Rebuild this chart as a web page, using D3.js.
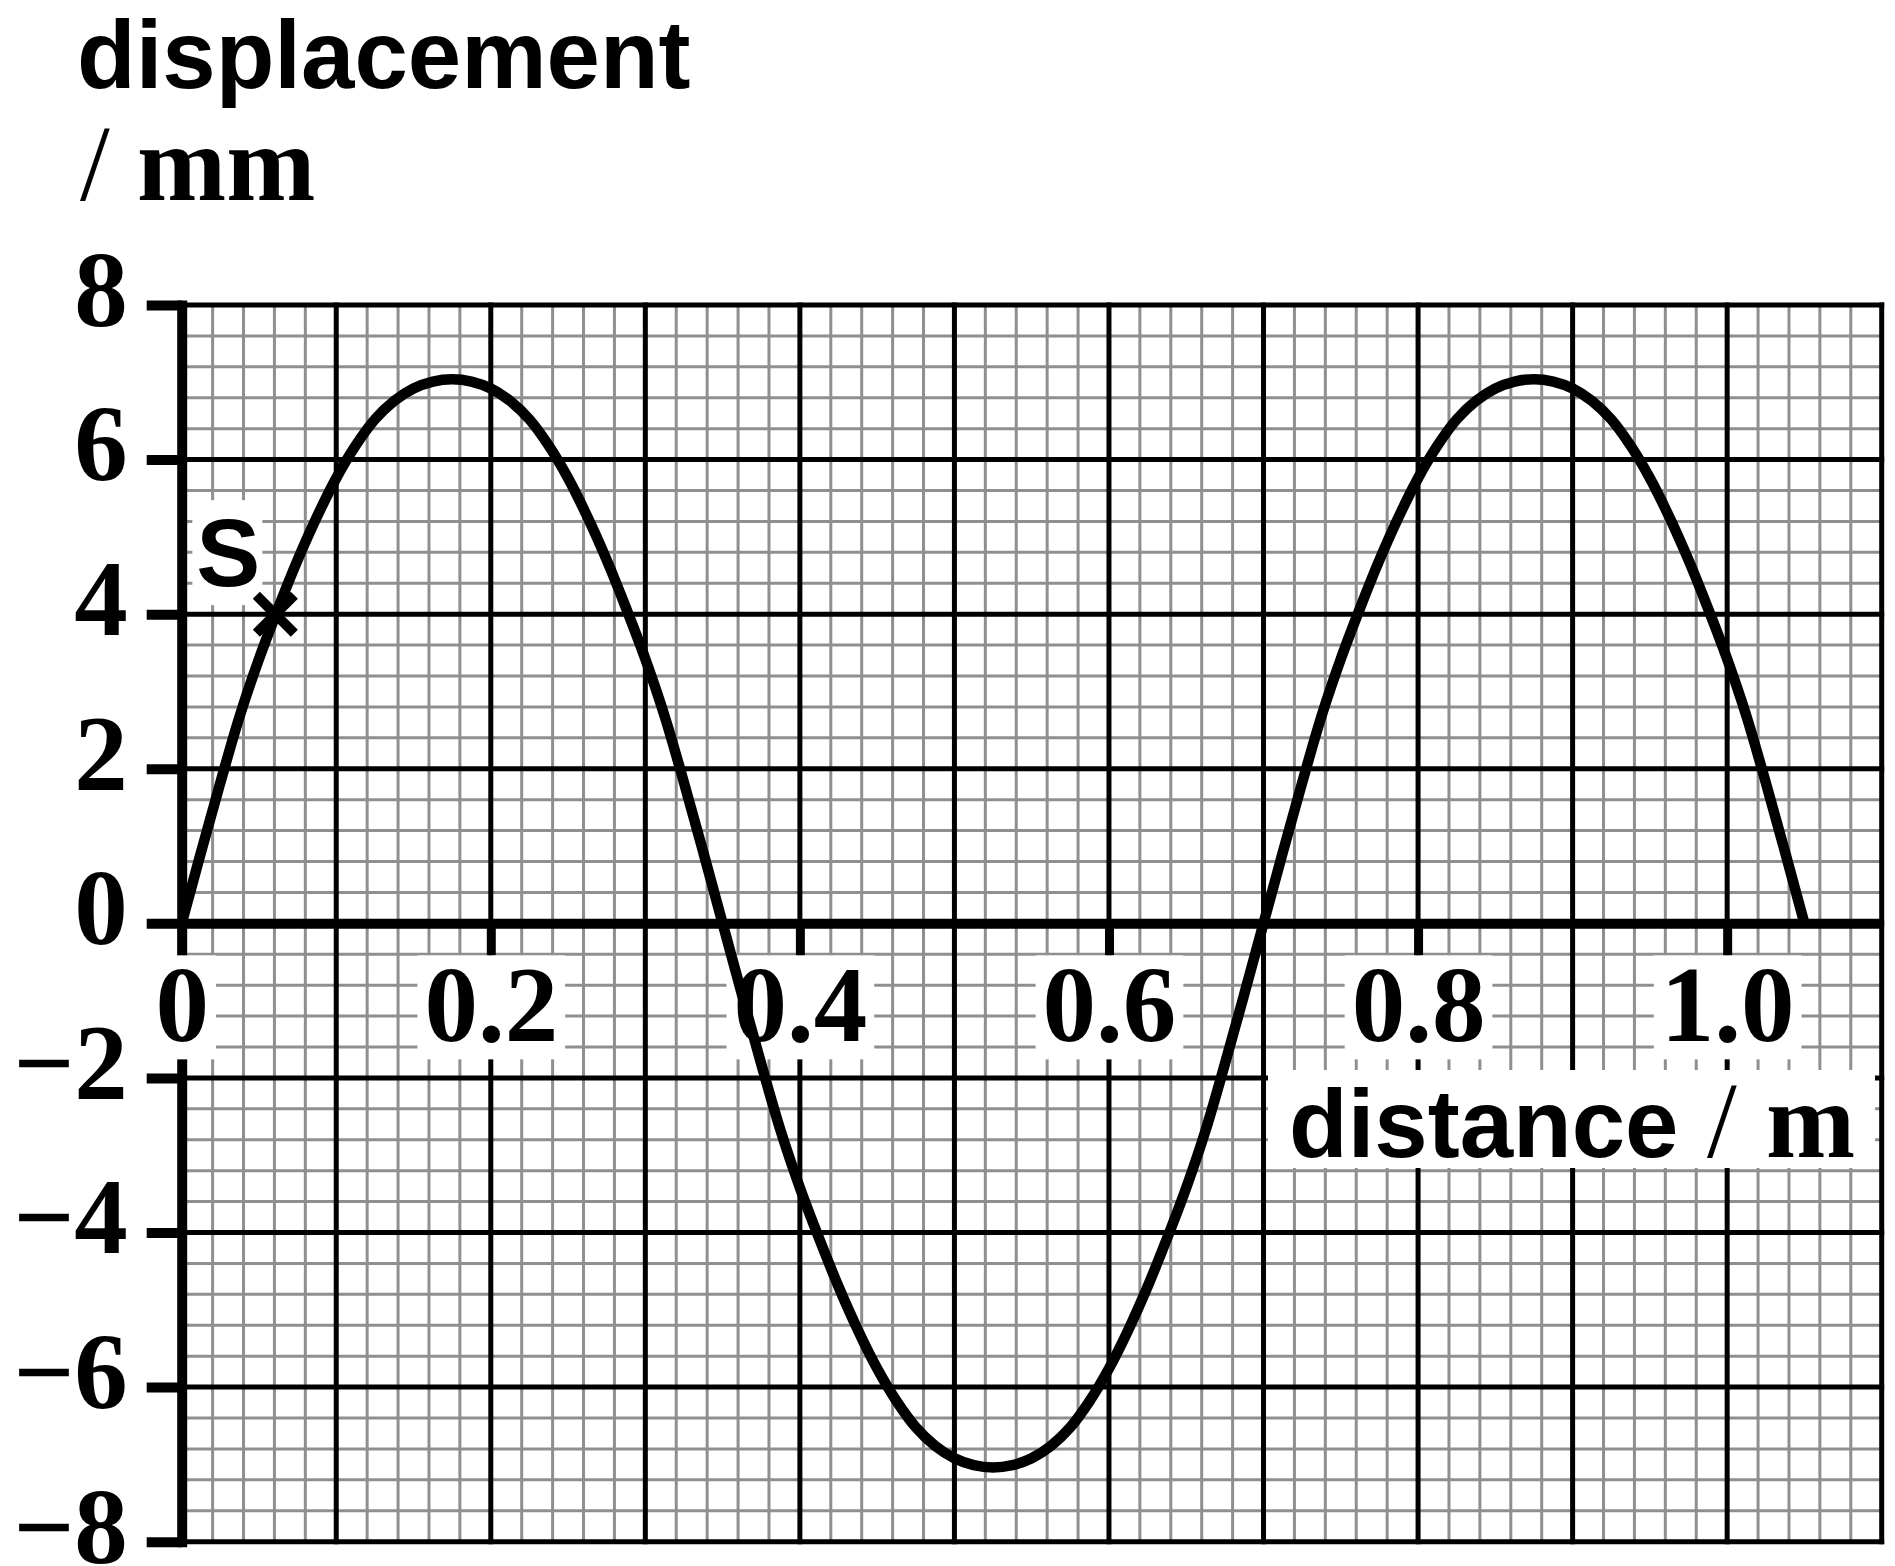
<!DOCTYPE html>
<html>
<head>
<meta charset="utf-8">
<script src="https://cdn.jsdelivr.net/npm/d3@7"></script>
<style>
  body { margin: 0; background: #fff; }
  svg { display: block; background: #fff; }
  .num { font-family: "Liberation Serif", "Times New Roman", serif; font-weight: bold; font-size: 107px; }
  .word { font-family: "Liberation Sans", Arial, sans-serif; font-weight: bold; font-size: 96px; }
  .slash { font-family: "Liberation Serif", "Times New Roman", serif; font-weight: normal; font-size: 107px; }
</style>
</head>
<body>
<svg width="1895" height="1566"></svg>
<script>
// wave, one point every 0.0125 m
const distance = [
  0, 0.0125, 0.025, 0.0375, 0.05, 0.0625, 0.075, 0.0875, 0.1, 0.1125, 0.125, 0.1375, 0.15, 0.1625, 0.175,
  0.1875, 0.2, 0.2125, 0.225, 0.2375, 0.25, 0.2625, 0.275, 0.2875, 0.3, 0.3125, 0.325, 0.3375, 0.35,
  0.3625, 0.375, 0.3875, 0.4, 0.4125, 0.425, 0.4375, 0.45, 0.4625, 0.475, 0.4875, 0.5, 0.5125, 0.525,
  0.5375, 0.55, 0.5625, 0.575, 0.5875, 0.6, 0.6125, 0.625, 0.6375, 0.65, 0.6625, 0.675, 0.6875, 0.7,
  0.7125, 0.725, 0.7375, 0.75, 0.7625, 0.775, 0.7875, 0.8, 0.8125, 0.825, 0.8375, 0.85, 0.8625, 0.875,
  0.8875, 0.9, 0.9125, 0.925, 0.9375, 0.95, 0.9625, 0.975, 0.9875, 1.0, 1.0125, 1.025, 1.0375, 1.05
];
const displacement = [
  0, 0.92, 1.82, 2.68, 3.42, 4.08, 4.70, 5.26, 5.76, 6.18, 6.52, 6.76, 6.92, 7.01, 7.04,
  7.01, 6.92, 6.76, 6.52, 6.18, 5.76, 5.26, 4.70, 4.08, 3.42, 2.68, 1.82, 0.92, 0,
  -0.92, -1.82, -2.68, -3.42, -4.08, -4.70, -5.26, -5.76, -6.18, -6.52, -6.76, -6.92, -7.01, -7.04,
  -7.01, -6.92, -6.76, -6.52, -6.18, -5.76, -5.26, -4.70, -4.08, -3.42, -2.68, -1.82, -0.92, 0,
  0.92, 1.82, 2.68, 3.42, 4.08, 4.70, 5.26, 5.76, 6.18, 6.52, 6.76, 6.92, 7.01, 7.04,
  7.01, 6.92, 6.76, 6.52, 6.18, 5.76, 5.26, 4.70, 4.08, 3.42, 2.68, 1.82, 0.92, 0
];

const xTicks = [0, 0.2, 0.4, 0.6, 0.8, 1.0];
const xTickLabels = ['0', '0.2', '0.4', '0.6', '0.8', '1.0'];
const yTicks = [8, 6, 4, 2, 0, -2, -4, -6, -8];
const yTickLabels = ['8', '6', '4', '2', '0', '\u22122', '\u22124', '\u22126', '\u22128'];

// the marked point S
const pointX = [0.0606];
const pointY = [4.0];
const pointLabel = ['S'];

const svg = d3.select('svg');

const x = d3.scaleLinear().domain([0, 1.1]).range([181.7, 1881.7]);
const y = d3.scaleLinear().domain([-8, 8]).range([1541.7, 305]);

// graph paper: minor every 0.02 m / 0.4 mm, major every 0.1 m / 2 mm
const minorX = d3.range(56).map((i) => i * 0.02);
const minorY = d3.range(41).map((i) => -8 + i * 0.4);
const majorX = d3.range(1, 12).map((i) => i * 0.1);
const majorY = d3.range(9).map((i) => -8 + i * 2);

const paper = svg.append('g');

paper.selectAll('line.mv').data(minorX).enter().append('line')
  .attr('x1', (d) => x(d)).attr('x2', (d) => x(d))
  .attr('y1', y(8)).attr('y2', y(-8))
  .attr('stroke', '#8f8f8f').attr('stroke-width', 3);

paper.selectAll('line.mh').data(minorY).enter().append('line')
  .attr('x1', x(0)).attr('x2', x(1.1))
  .attr('y1', (d) => y(d)).attr('y2', (d) => y(d))
  .attr('stroke', '#8f8f8f').attr('stroke-width', 3);

paper.selectAll('line.jv').data(majorX).enter().append('line')
  .attr('x1', (d) => x(d)).attr('x2', (d) => x(d))
  .attr('y1', y(8)).attr('y2', y(-8))
  .attr('stroke', '#000').attr('stroke-width', 5).attr('stroke-linecap', 'square');

paper.selectAll('line.jh').data(majorY).enter().append('line')
  .attr('x1', x(0)).attr('x2', x(1.1))
  .attr('y1', (d) => y(d)).attr('y2', (d) => y(d))
  .attr('stroke', '#000').attr('stroke-width', 5).attr('stroke-linecap', 'square');

// y axis
const yAxis = d3.axisLeft(y)
  .tickValues(yTicks)
  .tickFormat((d, i) => yTickLabels[i])
  .tickSize(35)
  .tickSizeOuter(0)
  .tickPadding(19);

const gy = svg.append('g')
  .attr('transform', `translate(${x(0)},0)`)
  .call(yAxis)
  .attr('font-size', null)
  .attr('font-family', null);
gy.select('.domain').attr('stroke', '#000').attr('stroke-width', 10).attr('stroke-linecap', 'square');
gy.selectAll('.tick line').attr('stroke', '#000').attr('stroke-width', 10);
gy.selectAll('.tick text').attr('class', 'num').attr('fill', '#000').attr('dy', '0.19em');

// x axis, labels sit on white patches
const xAxis = d3.axisBottom(x)
  .tickValues(xTicks)
  .tickFormat((d, i) => xTickLabels[i])
  .tickSize(32)
  .tickSizeOuter(0);

const gx = svg.append('g')
  .attr('transform', `translate(0,${y(0)})`)
  .call(xAxis)
  .attr('font-size', null)
  .attr('font-family', null);
gx.select('.domain').attr('stroke', '#000').attr('stroke-width', 10);
gx.selectAll('.tick line').attr('stroke', '#000').attr('stroke-width', 9);
gx.selectAll('.tick text').attr('class', 'num').attr('fill', '#000').attr('y', 117.7).attr('dy', 0);

gx.selectAll('.tick').each(function () {
  const tick = d3.select(this);
  const bb = tick.select('text').node().getBBox();
  tick.insert('rect', 'text')
    .attr('x', bb.x - 7)
    .attr('width', bb.width + 14)
    .attr('y', 32)
    .attr('height', 104)
    .attr('fill', '#fff');
});

// axis titles
svg.append('rect').attr('x', 1268).attr('y', 1070).attr('width', 607).attr('height', 98).attr('fill', '#fff');
svg.append('text').attr('class', 'word').attr('x', 1289).attr('y', 1157).text('distance');
svg.append('text').attr('class', 'slash').attr('x', 1707).attr('y', 1157).text('/');
svg.append('text').attr('class', 'num').attr('x', 1766).attr('y', 1157).text('m');

svg.append('text').attr('class', 'word').attr('x', 77).attr('y', 88).text('displacement');
svg.append('text').attr('class', 'slash').attr('x', 80).attr('y', 200).text('/');
svg.append('text').attr('class', 'num').attr('x', 137).attr('y', 200).text('mm');

// the wave
const line = d3.line()
  .x((d, i) => x(distance[i]))
  .y((d) => y(d))
  .curve(d3.curveCatmullRom.alpha(0.5));

svg.append('path')
  .datum(displacement)
  .attr('d', line)
  .attr('fill', 'none')
  .attr('stroke', '#000')
  .attr('stroke-width', 10.5)
  .attr('stroke-linejoin', 'round');

// point S: cross on the curve, label on a white patch to its upper left
const marks = svg.selectAll('g.pt').data(pointX).enter().append('g')
  .attr('transform', (d, i) => `translate(${x(d)},${y(pointY[i])})`);

marks.append('rect')
  .attr('x', -83).attr('y', -114).attr('width', 70).attr('height', 105)
  .attr('fill', '#fff');
marks.append('text')
  .attr('class', 'word')
  .attr('x', -79).attr('y', -28)
  .text((d, i) => pointLabel[i]);
marks.append('line').attr('x1', -19).attr('y1', -19).attr('x2', 19).attr('y2', 19)
  .attr('stroke', '#000').attr('stroke-width', 10);
marks.append('line').attr('x1', -19).attr('y1', 19).attr('x2', 19).attr('y2', -19)
  .attr('stroke', '#000').attr('stroke-width', 10);
</script>
</body>
</html>
